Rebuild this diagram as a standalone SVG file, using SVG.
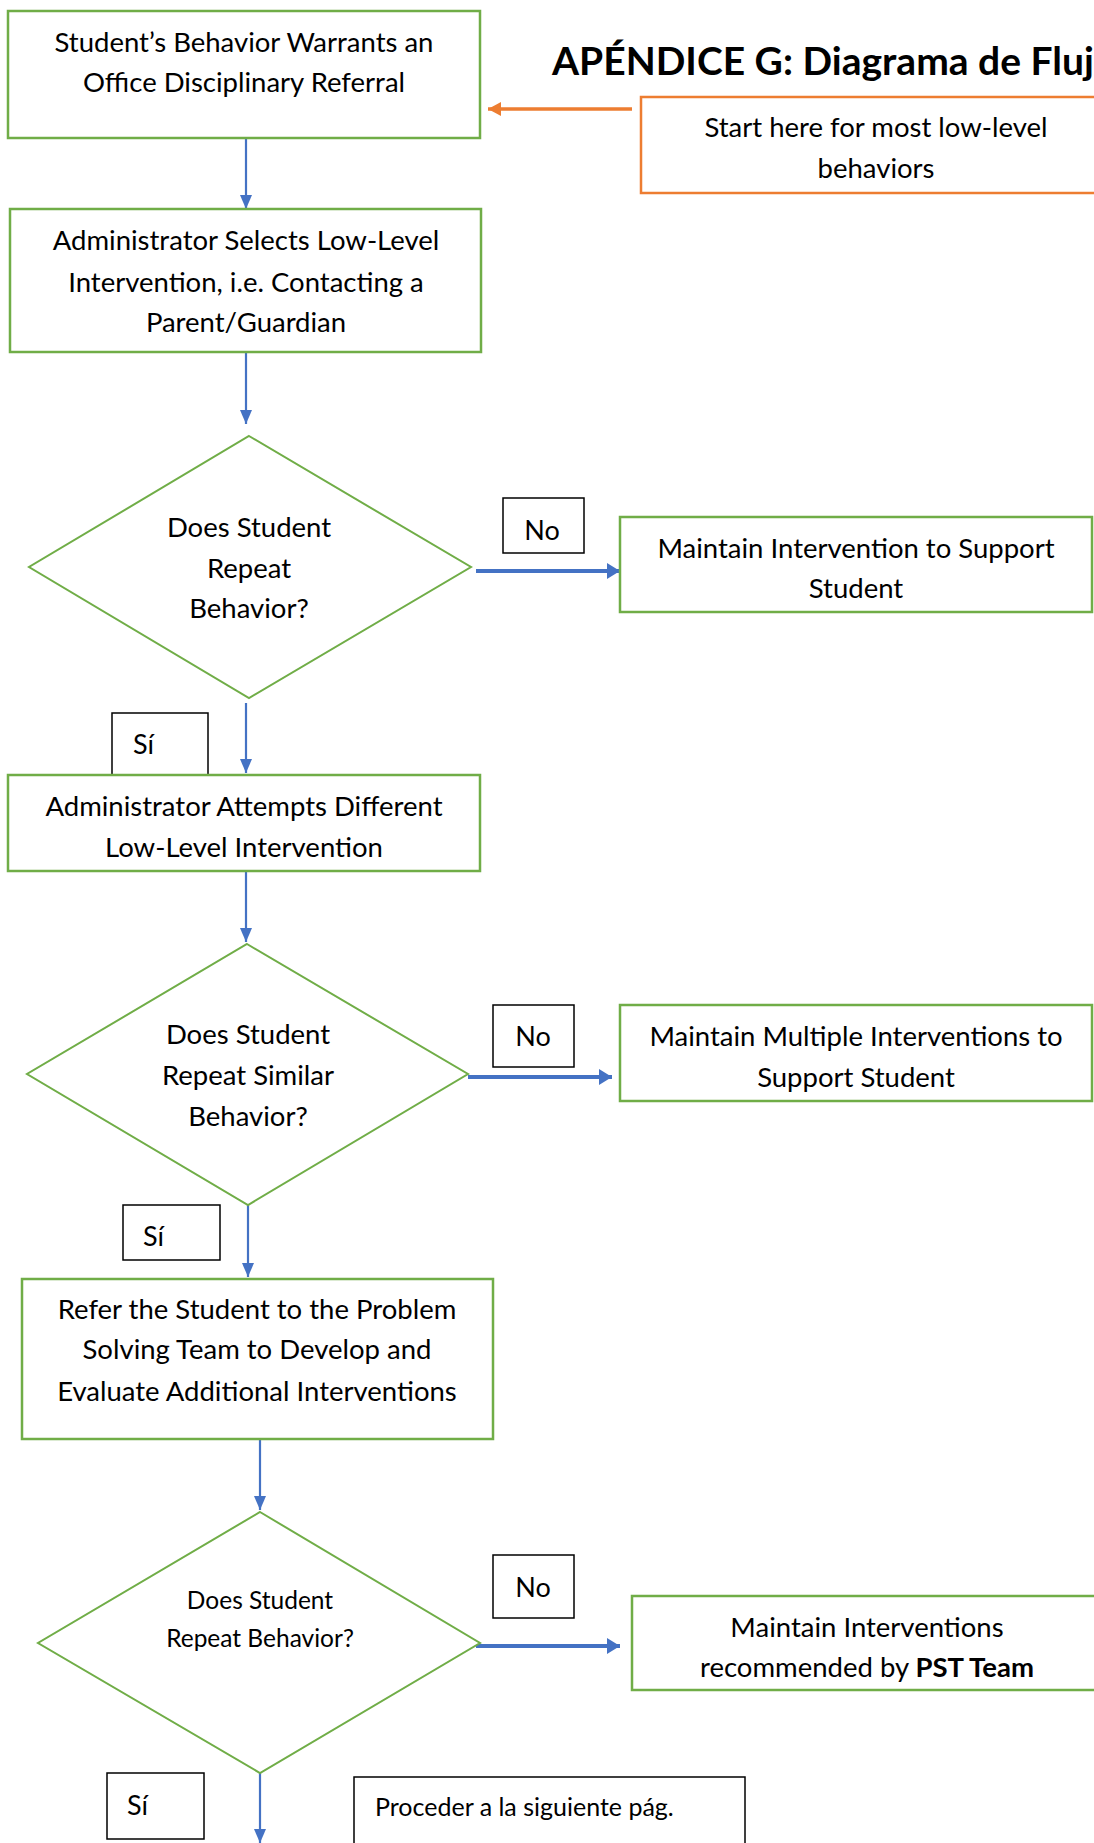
<svg xmlns="http://www.w3.org/2000/svg" width="1094" height="1843" viewBox="0 0 1094 1843">
<style>
text{font-family:Lato,"Liberation Sans",sans-serif;fill:#000}
.t{font-size:27.5px;text-anchor:middle}
.ts{font-size:24.5px;text-anchor:middle}
.box{fill:#fff;stroke:#70AD47;stroke-width:2.5}
.dia{fill:#fff;stroke:#70AD47;stroke-width:2}
.lbl{fill:#fff;stroke:#000;stroke-width:1.5}
.lt{font-size:27px}
.v{stroke:#4472C4;stroke-width:2.2;fill:none}
.h{stroke:#4472C4;stroke-width:4;fill:none}
</style>
<defs>
<marker id="av" markerUnits="userSpaceOnUse" markerWidth="14" markerHeight="16" refX="14" refY="6" orient="auto"><path d="M0,0 L14,6 L0,12 Z" fill="#4472C4"/></marker>
<marker id="ah" markerUnits="userSpaceOnUse" markerWidth="14" markerHeight="18" refX="13" refY="8" orient="auto"><path d="M0,0 L13,8 L0,16 Z" fill="#4472C4"/></marker>
<marker id="ao" markerUnits="userSpaceOnUse" markerWidth="14" markerHeight="16" refX="13" refY="7" orient="auto"><path d="M0,0 L13,7 L0,14 Z" fill="#ED7D31"/></marker>
</defs>
<rect width="1094" height="1843" fill="#fff"/>

<text x="552" y="75" style="font-size:39px;font-weight:bold">APÉNDICE G: Diagrama de Flujo</text>

<g id="connectors">
<line class="v" x1="246" y1="138" x2="246" y2="209" marker-end="url(#av)"/>
<line class="v" x1="246" y1="352" x2="246" y2="424" marker-end="url(#av)"/>
<line class="v" x1="246" y1="703" x2="246" y2="773" marker-end="url(#av)"/>
<line class="v" x1="246" y1="871" x2="246" y2="942" marker-end="url(#av)"/>
<line class="v" x1="248" y1="1205" x2="248" y2="1277" marker-end="url(#av)"/>
<line class="v" x1="260" y1="1439" x2="260" y2="1510" marker-end="url(#av)"/>
<line class="v" x1="260" y1="1773" x2="260" y2="1843" marker-end="url(#av)"/>
<line class="h" x1="476" y1="571" x2="620" y2="571" marker-end="url(#ah)"/>
<line class="h" x1="468" y1="1077" x2="612" y2="1077" marker-end="url(#ah)"/>
<line class="h" x1="476" y1="1646" x2="620" y2="1646" marker-end="url(#ah)"/>
<line x1="632" y1="109" x2="488" y2="109" stroke="#ED7D31" stroke-width="3.5" marker-end="url(#ao)"/>
</g>

<g id="n-start">
<rect class="box" x="8" y="11" width="472" height="127"/>
<text class="t" x="244" y="52">Student’s Behavior Warrants an</text>
<text class="t" x="244" y="92">Office Disciplinary Referral</text>
</g>

<g id="n-note">
<rect x="641" y="97" width="470" height="96" fill="#fff" stroke="#ED7D31" stroke-width="2.5"/>
<text class="t" x="876" y="137">Start here for most low-level</text>
<text class="t" x="876" y="178">behaviors</text>
</g>

<g id="n-admin1">
<rect class="box" x="10" y="209" width="471" height="143"/>
<text class="t" x="246" y="250">Administrator Selects Low-Level</text>
<text class="t" x="246" y="292">Intervention, i.e. Contacting a</text>
<text class="t" x="246" y="332">Parent/Guardian</text>
</g>

<g id="n-dec1">
<polygon class="dia" points="249,436 471,567 249,698 29,567"/>
<text class="t" x="249" y="537">Does Student</text>
<text class="t" x="249" y="578">Repeat</text>
<text class="t" x="249" y="618">Behavior?</text>
</g>

<g id="l-no1">
<rect class="lbl" x="503" y="498" width="81" height="55"/>
<text class="lt" x="542" y="540" text-anchor="middle">No</text>
</g>

<g id="n-maintain1">
<rect class="box" x="620" y="517" width="472" height="95"/>
<text class="t" x="856" y="558">Maintain Intervention to Support</text>
<text class="t" x="856" y="598">Student</text>
</g>

<g id="l-si1">
<rect class="lbl" x="112" y="713" width="96" height="62"/>
<text class="lt" x="133" y="754">Sí</text>
</g>

<g id="n-admin2">
<rect class="box" x="8" y="775" width="472" height="96"/>
<text class="t" x="244" y="816">Administrator Attempts Different</text>
<text class="t" x="244" y="857">Low-Level Intervention</text>
</g>

<g id="n-dec2">
<polygon class="dia" points="247,944 468,1074 248,1205 27,1074"/>
<text class="t" x="248" y="1044">Does Student</text>
<text class="t" x="248" y="1085">Repeat Similar</text>
<text class="t" x="248" y="1126">Behavior?</text>
</g>

<g id="l-no2">
<rect class="lbl" x="493" y="1005" width="81" height="62"/>
<text class="lt" x="533" y="1046" text-anchor="middle">No</text>
</g>

<g id="n-maintain2">
<rect class="box" x="620" y="1005" width="472" height="96"/>
<text class="t" x="856" y="1046">Maintain Multiple Interventions to</text>
<text class="t" x="856" y="1087">Support Student</text>
</g>

<g id="l-si2">
<rect class="lbl" x="123" y="1205" width="97" height="55"/>
<text class="lt" x="143" y="1246">Sí</text>
</g>

<g id="n-pst">
<rect class="box" x="22" y="1279" width="471" height="160"/>
<text class="t" x="257" y="1319">Refer the Student to the Problem</text>
<text class="t" x="257" y="1359">Solving Team to Develop and</text>
<text class="t" x="257" y="1401">Evaluate Additional Interventions</text>
</g>

<g id="n-dec3">
<polygon class="dia" points="260,1512 480,1643 260,1773 38,1643"/>
<text class="ts" x="260" y="1609">Does Student</text>
<text class="ts" x="260" y="1647">Repeat Behavior?</text>
</g>

<g id="l-no3">
<rect class="lbl" x="493" y="1555" width="81" height="63"/>
<text class="lt" x="533" y="1597" text-anchor="middle">No</text>
</g>

<g id="n-maintain3">
<rect class="box" x="632" y="1596" width="470" height="94"/>
<text class="t" x="867" y="1637">Maintain Interventions</text>
<text class="t" x="867" y="1677">recommended by <tspan font-weight="bold">PST Team</tspan></text>
</g>

<g id="l-si3">
<rect class="lbl" x="107" y="1773" width="97" height="66"/>
<text class="lt" x="127" y="1815">Sí</text>
</g>

<g id="n-next">
<rect class="lbl" x="354" y="1777" width="391" height="80"/>
<text x="375" y="1816" style="font-size:25px">Proceder a la siguiente pág.</text>
</g>
</svg>
